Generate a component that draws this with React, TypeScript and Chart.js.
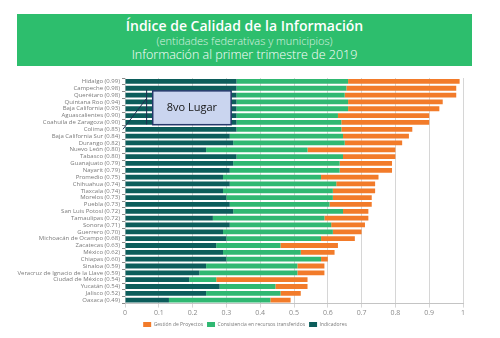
import React, { useEffect, useRef } from "react";
import { Chart, registerables } from "chart.js";

Chart.register(...registerables);

const ENTIDADES = [
  "Hidalgo (0.99)", "Campeche (0.98)", "Querétaro (0.98)", "Quintana Roo (0.94)",
  "Baja California (0.93)", "Aguascalientes (0.90)", "Coahuila de Zaragoza (0.90)",
  "Colima (0.85)", "Baja California Sur (0.84)", "Durango (0.82)", "Nuevo León (0.80)",
  "Tabasco (0.80)", "Guanajuato (0.79)", "Nayarit (0.79)", "Promedio (0.75)",
  "Chihuahua (0.74)", "Tlaxcala (0.74)", "Morelos (0.73)", "Puebla (0.73)",
  "San Luis Potosí (0.72)", "Tamaulipas (0.72)", "Sonora (0.71)", "Guerrero (0.70)",
  "Michoacán de Ocampo (0.68)", "Zacatecas (0.63)", "México (0.62)", "Chiapas (0.60)",
  "Sinaloa (0.59)", "Veracruz de Ignacio de la Llave (0.59)", "Ciudad de México (0.54)",
  "Yucatán (0.54)", "Jalisco (0.52)", "Oaxaca (0.49)",
];

const INDICADORES = [
  0.33, 0.33, 0.33, 0.33, 0.33, 0.33, 0.33, 0.33, 0.31, 0.32, 0.24,
  0.33, 0.32, 0.31, 0.29, 0.31, 0.29, 0.30, 0.31, 0.32, 0.26, 0.31,
  0.29, 0.30, 0.27, 0.29, 0.30, 0.24, 0.22, 0.19, 0.28, 0.24, 0.13,
];

const CONSISTENCIA = [
  0.33, 0.325, 0.32, 0.33, 0.33, 0.30, 0.31, 0.31, 0.335, 0.33, 0.30,
  0.315, 0.315, 0.325, 0.29, 0.315, 0.325, 0.315, 0.295, 0.325, 0.33, 0.30,
  0.325, 0.28, 0.19, 0.23, 0.28, 0.27, 0.29, 0.08, 0.165, 0.22, 0.30,
];

const GESTION = [
  0.33, 0.325, 0.33, 0.28, 0.27, 0.27, 0.26, 0.21, 0.195, 0.17, 0.26,
  0.155, 0.155, 0.155, 0.17, 0.115, 0.125, 0.115, 0.125, 0.075, 0.13, 0.10,
  0.085, 0.10, 0.17, 0.10, 0.02, 0.08, 0.08, 0.27, 0.095, 0.06, 0.06,
];

const X_TICK_LABELS = ["0", "0.1", "0.2", "0.3", "0.4", "0.5", "0.6", "0.7", "0.8", "0.9", "1"];

const SERIES_NAMES = ["Indicadores", "Consistencia en recursos transferidos", "Gestión de Proyectos"];
const COLORS = ["#0c5d5b", "#30b872", "#f27b2a"];

const TITLE = "Índice de Calidad de la Información";
const SUBTITLE = "(entidades federativas y municipios)";
const SUBTITLE2 = "Información al primer trimestre de 2019";
const ANNOTATION_TEXT = "8vo Lugar";

const legendShiftPlugin = {
  id: "legendShift",
  afterLayout(chart: any) {
    const lg = chart.legend;
    if (lg) {
      lg.left += 13.5;
      lg.right += 13.5;
    }
  },
};

const annotationPlugin = {
  id: "lugarAnnotation",
  afterDatasetsDraw(chart: any) {
    const { ctx, scales } = chart;
    const xs = scales.x;
    const ys = scales.y;
    ctx.save();
    const bx1 = xs.getPixelForValue(0.082);
    const bx2 = xs.getPixelForValue(0.314);
    const by1 = ys.getPixelForValue(1.38);
    const by2 = ys.getPixelForValue(6.33);
    ctx.fillStyle = "#cad5ef";
    ctx.fillRect(bx1, by1, bx2 - bx1, by2 - by1);
    ctx.strokeStyle = "#24386a";
    ctx.lineWidth = 1.5;
    ctx.strokeRect(bx1, by1, bx2 - bx1, by2 - by1);
    ctx.fillStyle = "#151515";
    ctx.font = "11px 'Open Sans', sans-serif";
    ctx.textAlign = "center";
    ctx.textBaseline = "middle";
    ctx.fillText(ANNOTATION_TEXT, (bx1 + bx2) / 2, (by1 + by2) / 2 + 0.5);
    const vx = xs.getPixelForValue(0.064);
    ctx.strokeStyle = "#1d2d50";
    ctx.lineWidth = 1;
    ctx.beginPath();
    ctx.moveTo(vx, ys.getPixelForValue(1.23));
    ctx.lineTo(vx, ys.getPixelForValue(6.29));
    ctx.stroke();
    ctx.beginPath();
    ctx.moveTo(xs.left - 2, ys.getPixelForValue(7));
    ctx.lineTo(vx, ys.getPixelForValue(2.47));
    ctx.stroke();
    ctx.restore();
  },
};

export default function App() {
  const canvasRef = useRef<HTMLCanvasElement>(null);

  useEffect(() => {
    document.body.style.margin = "0";
    const canvas = canvasRef.current;
    if (!canvas) return;
    const chart = new Chart(canvas, {
      type: "bar",
      data: {
        labels: ENTIDADES,
        datasets: [
          { label: SERIES_NAMES[0], data: INDICADORES, backgroundColor: COLORS[0] },
          { label: SERIES_NAMES[1], data: CONSISTENCIA, backgroundColor: COLORS[1] },
          { label: SERIES_NAMES[2], data: GESTION, backgroundColor: COLORS[2] },
        ],
      },
      plugins: [legendShiftPlugin, annotationPlugin],
      options: {
        indexAxis: "y",
        animation: false,
        responsive: false,
        maintainAspectRatio: false,
        layout: { padding: { top: 78, right: 37, left: 0, bottom: 1 } },
        datasets: { bar: { categoryPercentage: 0.7, barPercentage: 1 } },
        scales: {
          x: {
            stacked: true,
            min: 0,
            max: 1,
            ticks: {
              stepSize: 0.1,
              color: "#8a8a8a",
              font: { family: "'Open Sans', sans-serif", size: 7 },
              padding: 1,
              callback: (_v: any, i: number) => X_TICK_LABELS[i],
            },
            grid: { color: "#d6d6d6", lineWidth: 1, tickLength: 4 },
            border: { display: true, color: "#c4c4c4" },
          },
          y: {
            stacked: true,
            afterFit: (s: any) => { s.width = 125; },
            ticks: {
              color: "#7a7a7a",
              font: { family: "'Open Sans', sans-serif", size: 6 },
              padding: 2,
              autoSkip: false,
            },
            grid: { drawOnChartArea: false, drawTicks: true, tickLength: 3, color: "#8a8a8a" },
            border: { display: false },
          },
        },
        plugins: {
          legend: {
            position: "bottom",
            reverse: true,
            labels: {
              boxWidth: 8,
              boxHeight: 5,
              padding: 4,
              color: "#7a7a7a",
              font: { family: "'Open Sans', sans-serif", size: 5 },
            },
          },
          tooltip: { enabled: false },
        },
      },
    } as any);
    return () => chart.destroy();
  }, []);

  return (
    <div style={{ position: "relative", width: 500, height: 338, background: "#fff" }}>
      <canvas ref={canvasRef} width={500} height={338} style={{ position: "absolute", left: 0, top: 0 }} />
      <div
        style={{
          position: "absolute",
          left: 17,
          top: 14,
          width: 455,
          height: 52,
          background: "#2dbe6d",
          color: "#fff",
          textAlign: "center",
          fontFamily: "'Open Sans', sans-serif",
        }}
      >
        <div style={{ fontSize: 14, fontWeight: 600, lineHeight: "16px", marginTop: 4 }}>{TITLE}</div>
        <div style={{ fontSize: 11, fontWeight: 300, lineHeight: "13px", opacity: 0.8 }}>{SUBTITLE}</div>
        <div style={{ fontSize: 12.5, fontWeight: 300, lineHeight: "15px" }}>{SUBTITLE2}</div>
      </div>
    </div>
  );
}
